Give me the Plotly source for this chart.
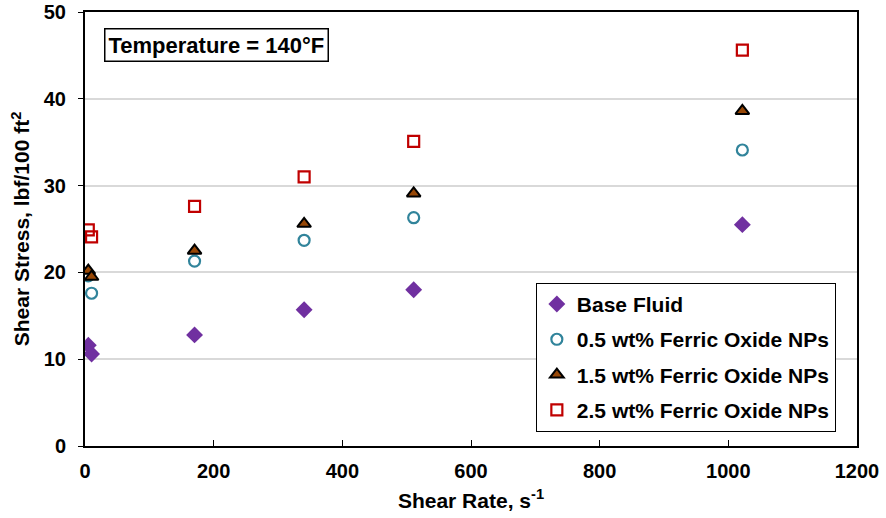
import plotly.graph_objects as go

shear_rate = [5.11, 10.22, 170.3, 340.6, 510.9, 1021.8]
base_fluid = [11.6, 10.6, 12.8, 15.7, 18.0, 25.5]
np05 = [19.6, 17.6, 21.3, 23.7, 26.3, 34.1]
np15 = [20.2, 19.5, 22.5, 25.6, 29.1, 38.6]
np25 = [24.9, 24.1, 27.6, 31.0, 35.1, 45.6]

names = ["Base Fluid", "0.5 wt% Ferric Oxide NPs", "1.5 wt% Ferric Oxide NPs", "2.5 wt% Ferric Oxide NPs"]

fig = go.Figure()
fig.add_trace(go.Scatter(x=shear_rate, y=base_fluid, mode="markers", name=names[0], legendgroup="a",
                         marker=dict(symbol="diamond", size=13, color="#7030A0", line=dict(width=0))))
fig.add_trace(go.Scatter(x=shear_rate, y=np05, mode="markers", name=names[1], legendgroup="b",
                         marker=dict(symbol="circle-open", size=11, color="#31849B", line=dict(width=2.2, color="#31849B"))))
fig.add_trace(go.Scatter(x=shear_rate, y=np15, mode="markers", name=names[2], legendgroup="c",
                         marker=dict(symbol="triangle-up", size=12, color="#974706", line=dict(width=2, color="black"))))
fig.add_trace(go.Scatter(x=shear_rate, y=np25, mode="markers", name=names[3], legendgroup="d",
                         marker=dict(symbol="square-open", size=11, color="#C00000", line=dict(width=2.2, color="#C00000"))))

font_family = "Liberation Sans, Arial, sans-serif"

fig.update_layout(
    width=886, height=518,
    margin=dict(l=85, r=29, t=12, b=72, autoexpand=False),
    paper_bgcolor="white", plot_bgcolor="white",
    font=dict(family=font_family, color="black", size=20),
    showlegend=True,
    legend=dict(x=0.584, y=0.376, xanchor="left", yanchor="top",
                bordercolor="black", borderwidth=1, bgcolor="white",
                font=dict(size=21, family=font_family, color="black", weight="bold"),
                traceorder="grouped", tracegroupgap=5, itemwidth=30,
                entrywidth=300, entrywidthmode="pixels"),
    xaxis=dict(range=[0, 1200], dtick=200, showline=True, linecolor="black", linewidth=2, mirror=True,
               automargin=False,
               ticks="inside", ticklen=6, tickcolor="black", tickwidth=1, showgrid=False, zeroline=False,
               tickfont=dict(size=20, weight="bold"), ticklabelstandoff=6,
               title=dict(text="Shear Rate, s<sup>-1</sup>", font=dict(size=21, weight="bold"), standoff=12)),
    yaxis=dict(range=[0, 50], dtick=10, showline=True, linecolor="black", linewidth=2, mirror=True,
               automargin=False,
               ticks="outside", ticklen=5, tickcolor="black", tickwidth=1, showgrid=True,
               gridcolor="#D9D9D9", gridwidth=1.5, zeroline=False,
               tickfont=dict(size=20, weight="bold"), ticklabelstandoff=8,
               title=dict(text="Shear Stress, lbf/100 ft<sup>2</sup>", font=dict(size=21, weight="bold"), standoff=8)),
    annotations=[dict(text="<b>Temperature = 140°F</b>", xref="paper", yref="paper", x=0.024, y=0.962,
                      xanchor="left", yanchor="top", showarrow=False,
                      font=dict(size=22, family=font_family, color="black"),
                      bordercolor="black", borderwidth=1.5, borderpad=3, bgcolor="white")],
)

fig.write_html("out.html")
